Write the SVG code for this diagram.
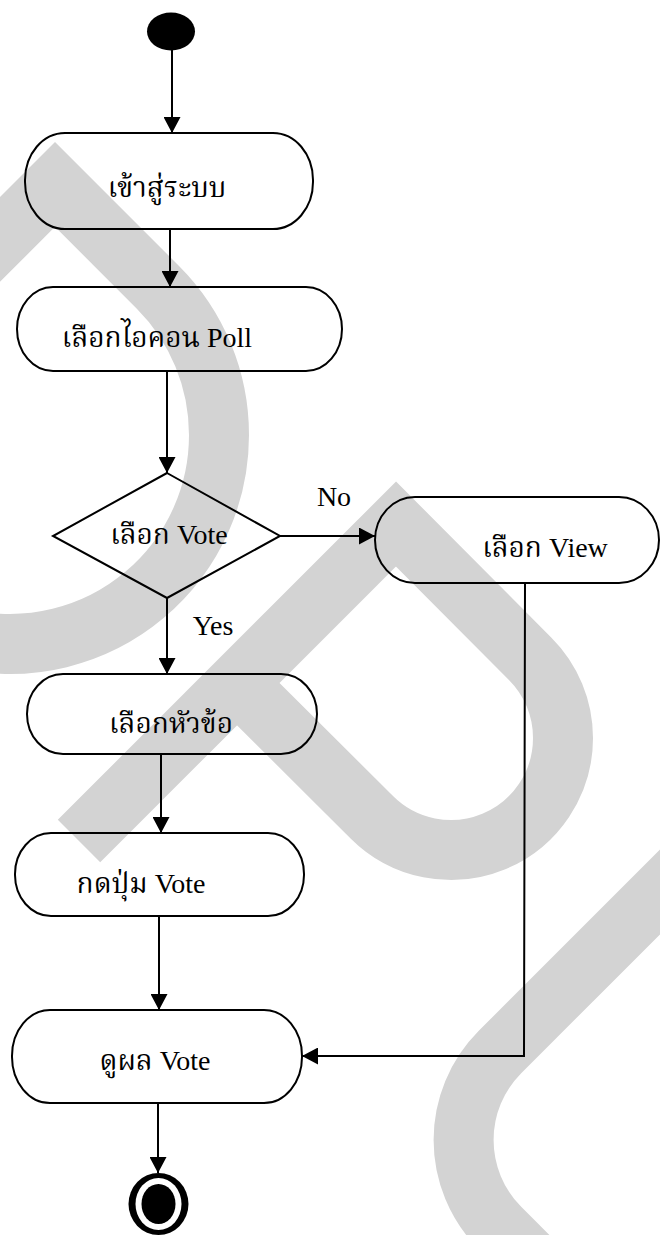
<svg xmlns="http://www.w3.org/2000/svg" width="660" height="1235" viewBox="0 0 660 1235">
<style>
.wm{fill:none;stroke:#d3d3d3;stroke-width:60;stroke-linejoin:miter;stroke-miterlimit:10;stroke-linecap:butt}
.node{fill:none;stroke:#000;stroke-width:2}
.edge{fill:none;stroke:#000;stroke-width:2}
.lbl{font-family:"Liberation Serif","Noto Serif Thai","Noto Sans Thai","Norasi","Garuda",serif;font-size:28px;fill:#000;text-anchor:middle}
.lat{font-family:"Liberation Serif",serif}
</style>
<defs>
<marker id="ah" viewBox="0 0 16 17" refX="16" refY="8.5" markerWidth="16" markerHeight="17" markerUnits="userSpaceOnUse" orient="auto">
<path d="M0,0 L16,8.5 L0,17 z" fill="#000"/>
</marker>
</defs>
<rect x="0" y="0" width="660" height="1235" fill="#fff"/>
<g id="watermark">
<path class="wm" d="M -40 279.4 L 55 184.4 L 157.8 287.2 A 209 209 0 0 1 219 435 A 209 209 0 0 1 -26.3 640.8"/>
<path class="wm" d="M 79 841 L 396 524 L 530.2 658.8 A 112 112 0 0 1 563 738 A 112 112 0 0 1 371.8 817.2 L 237 683"/>
<path class="wm" d="M 700 852 L 500 1052 A 124.4 124.4 0 0 0 463.6 1140 A 124.4 124.4 0 0 0 500 1228 L 560 1288"/>
</g>
<g id="connectors">
<line class="edge" x1="172" y1="50" x2="172" y2="133" marker-end="url(#ah)"/>
<line class="edge" x1="170" y1="229" x2="170" y2="287" marker-end="url(#ah)"/>
<line class="edge" x1="167" y1="371" x2="167" y2="473" marker-end="url(#ah)"/>
<line class="edge" x1="280" y1="536" x2="375" y2="536" marker-end="url(#ah)"/>
<line class="edge" x1="167" y1="598" x2="167" y2="674" marker-end="url(#ah)"/>
<line class="edge" x1="161" y1="754" x2="161" y2="833" marker-end="url(#ah)"/>
<line class="edge" x1="159" y1="916" x2="159" y2="1010" marker-end="url(#ah)"/>
<polyline class="edge" points="525,583 524,1056 302,1056" marker-end="url(#ah)"/>
<line class="edge" x1="158" y1="1103" x2="158" y2="1173" marker-end="url(#ah)"/>
<text class="lbl lat" x="334" y="506">No</text>
<text class="lbl lat" x="213" y="635">Yes</text>
</g>
<g id="start">
<ellipse cx="171" cy="31.5" rx="24" ry="19" fill="#000"/>
</g>
<g id="login">
<rect class="node" x="25" y="133" width="288" height="96" rx="40" ry="47"/>
<text class="lbl" x="167" y="197">เข้าสู่ระบบ</text>
</g>
<g id="selectPoll">
<rect class="node" x="17" y="287" width="325" height="84" rx="36" ry="42"/>
<text class="lbl" x="157" y="347">เลือกไอคอน <tspan class="lat">Poll</tspan></text>
</g>
<g id="decision">
<polygon class="node" points="167,473 280,536 167,598 53,536"/>
<text class="lbl" x="169" y="544">เลือก <tspan class="lat">Vote</tspan></text>
</g>
<g id="selectView">
<rect class="node" x="375" y="497" width="284" height="86" rx="40" ry="43"/>
<text class="lbl" x="545" y="557">เลือก <tspan class="lat">View</tspan></text>
</g>
<g id="selectTopic">
<rect class="node" x="27" y="674" width="290" height="80" rx="36" ry="40"/>
<text class="lbl" x="171" y="733">เลือกหัวข้อ</text>
</g>
<g id="pressVote">
<rect class="node" x="15" y="833" width="289" height="83" rx="36" ry="41"/>
<text class="lbl" x="141" y="893">กดปุ่ม <tspan class="lat">Vote</tspan></text>
</g>
<g id="viewResult">
<rect class="node" x="12" y="1010" width="290" height="93" rx="38" ry="46"/>
<text class="lbl" x="155" y="1070">ดูผล <tspan class="lat">Vote</tspan></text>
</g>
<g id="end">
<ellipse cx="158.5" cy="1204" rx="30" ry="31" fill="#000"/>
<ellipse cx="158.5" cy="1204" rx="23" ry="26" fill="#fff"/>
<ellipse cx="158.5" cy="1204" rx="17" ry="20" fill="#000"/>
</g>
</svg>
